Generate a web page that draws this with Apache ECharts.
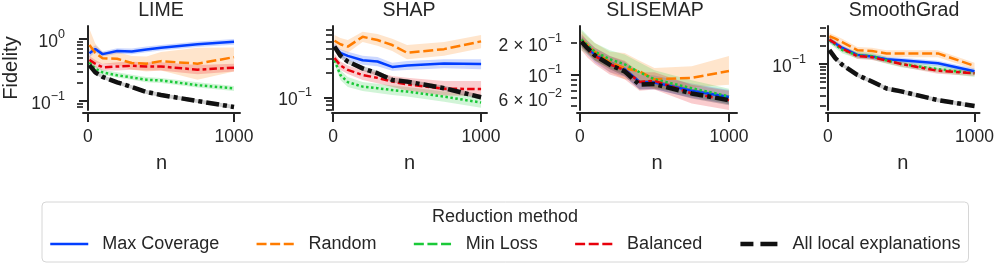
<!DOCTYPE html>
<html><head><meta charset="utf-8">
<script src="https://cdn.jsdelivr.net/npm/echarts@6/dist/echarts.min.js"></script>
<style>html,body{margin:0;padding:0;background:#fff}#c{width:997px;height:263px}</style>
</head><body><div id="c"></div>
<script>
// ---------------- data ----------------
const N = [10, 50, 100, 200, 300, 400, 500, 750, 1000];
const PANELS = ['LIME', 'SHAP', 'SLISEMAP', 'SmoothGrad'];
const METHODS = ['Max Coverage', 'Random', 'Min Loss', 'Balanced', 'All local explanations'];
const X_TICKS = [0, 1000];

// LIME
const LIME_maxcov    = [0.59, 0.69, 0.57, 0.64, 0.63, 0.68, 0.72, 0.82, 0.90];
const LIME_maxcov_lo = [0.51, 0.61, 0.52, 0.58, 0.57, 0.61, 0.65, 0.74, 0.81];
const LIME_maxcov_hi = [0.68, 0.79, 0.63, 0.71, 0.70, 0.76, 0.80, 0.91, 1.00];
const LIME_random    = [0.80, 0.60, 0.49, 0.48, 0.41, 0.40, 0.44, 0.40, 0.51];
const LIME_random_lo = [0.42, 0.42, 0.40, 0.38, 0.32, 0.30, 0.31, 0.22, 0.30];
const LIME_random_hi = [1.45, 0.85, 0.62, 0.62, 0.53, 0.52, 0.62, 0.72, 0.73];
const LIME_minloss    = [0.42, 0.33, 0.29, 0.26, 0.24, 0.22, 0.215, 0.18, 0.16];
const LIME_minloss_lo = [0.38, 0.30, 0.265, 0.24, 0.22, 0.20, 0.195, 0.165, 0.145];
const LIME_minloss_hi = [0.47, 0.37, 0.32, 0.29, 0.265, 0.245, 0.235, 0.20, 0.175];
const LIME_balanced    = [0.46, 0.40, 0.35, 0.36, 0.37, 0.36, 0.36, 0.32, 0.345];
const LIME_balanced_lo = [0.40, 0.35, 0.31, 0.31, 0.32, 0.31, 0.31, 0.27, 0.30];
const LIME_balanced_hi = [0.53, 0.46, 0.40, 0.42, 0.43, 0.42, 0.42, 0.38, 0.40];
const LIME_all    = [0.38, 0.29, 0.245, 0.20, 0.168, 0.14, 0.125, 0.10, 0.08];
const LIME_all_lo = [0.355, 0.27, 0.228, 0.186, 0.156, 0.13, 0.116, 0.093, 0.074];
const LIME_all_hi = [0.405, 0.31, 0.262, 0.214, 0.18, 0.15, 0.134, 0.107, 0.086];

// SHAP
const SHAP_maxcov    = [0.43, 0.36, 0.33, 0.29, 0.28, 0.24, 0.25, 0.265, 0.26];
const SHAP_maxcov_lo = [0.39, 0.32, 0.29, 0.255, 0.245, 0.215, 0.22, 0.23, 0.225];
const SHAP_maxcov_hi = [0.48, 0.40, 0.37, 0.33, 0.32, 0.27, 0.285, 0.30, 0.30];
const SHAP_random    = [0.51, 0.46, 0.43, 0.57, 0.52, 0.45, 0.36, 0.40, 0.50];
const SHAP_random_lo = [0.44, 0.39, 0.36, 0.49, 0.44, 0.38, 0.30, 0.33, 0.41];
const SHAP_random_hi = [0.60, 0.55, 0.52, 0.66, 0.62, 0.54, 0.45, 0.49, 0.60];
const SHAP_minloss    = [0.29, 0.19, 0.155, 0.136, 0.13, 0.123, 0.118, 0.102, 0.086];
const SHAP_minloss_lo = [0.26, 0.165, 0.135, 0.12, 0.113, 0.107, 0.102, 0.088, 0.074];
const SHAP_minloss_hi = [0.33, 0.22, 0.18, 0.155, 0.148, 0.14, 0.135, 0.118, 0.10];
const SHAP_balanced    = [0.31, 0.25, 0.22, 0.19, 0.175, 0.157, 0.145, 0.128, 0.127];
const SHAP_balanced_lo = [0.28, 0.22, 0.195, 0.165, 0.15, 0.135, 0.122, 0.105, 0.104];
const SHAP_balanced_hi = [0.35, 0.28, 0.25, 0.22, 0.205, 0.185, 0.175, 0.16, 0.16];
const SHAP_all    = [0.43, 0.33, 0.28, 0.23, 0.20, 0.165, 0.157, 0.13, 0.10];
const SHAP_all_lo = [0.40, 0.307, 0.26, 0.214, 0.186, 0.153, 0.146, 0.121, 0.093];
const SHAP_all_hi = [0.46, 0.353, 0.30, 0.246, 0.214, 0.177, 0.168, 0.139, 0.107];

// SLISEMAP
const SLISEMAP_maxcov    = [0.205, 0.18, 0.155, 0.125, 0.112, 0.085, 0.084, 0.07, 0.061];
const SLISEMAP_maxcov_lo = [0.18, 0.155, 0.13, 0.105, 0.095, 0.072, 0.072, 0.06, 0.052];
const SLISEMAP_maxcov_hi = [0.235, 0.21, 0.18, 0.15, 0.132, 0.10, 0.098, 0.082, 0.071];
const SLISEMAP_random    = [0.215, 0.19, 0.165, 0.13, 0.115, 0.107, 0.09, 0.093, 0.108];
const SLISEMAP_random_lo = [0.18, 0.16, 0.135, 0.105, 0.09, 0.085, 0.072, 0.075, 0.08];
const SLISEMAP_random_hi = [0.26, 0.23, 0.20, 0.165, 0.16, 0.135, 0.115, 0.12, 0.15];
const SLISEMAP_minloss    = [0.215, 0.19, 0.165, 0.14, 0.125, 0.105, 0.09, 0.074, 0.062];
const SLISEMAP_minloss_lo = [0.17, 0.155, 0.135, 0.115, 0.10, 0.085, 0.075, 0.062, 0.052];
const SLISEMAP_minloss_hi = [0.27, 0.235, 0.20, 0.17, 0.155, 0.13, 0.11, 0.088, 0.073];
const SLISEMAP_balanced    = [0.205, 0.175, 0.15, 0.125, 0.11, 0.085, 0.087, 0.066, 0.057];
const SLISEMAP_balanced_lo = [0.17, 0.145, 0.125, 0.10, 0.09, 0.07, 0.072, 0.053, 0.046];
const SLISEMAP_balanced_hi = [0.245, 0.21, 0.18, 0.15, 0.135, 0.105, 0.105, 0.08, 0.07];
const SLISEMAP_all    = [0.205, 0.178, 0.152, 0.124, 0.107, 0.080, 0.081, 0.066, 0.057];
const SLISEMAP_all_lo = [0.185, 0.16, 0.137, 0.112, 0.096, 0.072, 0.073, 0.059, 0.051];
const SLISEMAP_all_hi = [0.226, 0.196, 0.167, 0.136, 0.118, 0.088, 0.089, 0.073, 0.063];

// SmoothGrad
const SG_maxcov    = [0.25, 0.22, 0.185, 0.142, 0.133, 0.12, 0.115, 0.103, 0.076];
const SG_maxcov_lo = [0.225, 0.198, 0.167, 0.128, 0.12, 0.108, 0.104, 0.093, 0.068];
const SG_maxcov_hi = [0.275, 0.242, 0.204, 0.156, 0.146, 0.132, 0.127, 0.113, 0.084];
const SG_random    = [0.29, 0.265, 0.23, 0.17, 0.165, 0.15, 0.15, 0.15, 0.093];
const SG_random_lo = [0.25, 0.23, 0.20, 0.148, 0.143, 0.13, 0.13, 0.13, 0.081];
const SG_random_hi = [0.33, 0.30, 0.26, 0.192, 0.187, 0.17, 0.17, 0.17, 0.105];
const SG_minloss    = [0.25, 0.21, 0.17, 0.14, 0.135, 0.115, 0.10, 0.082, 0.07];
const SG_minloss_lo = [0.22, 0.185, 0.15, 0.123, 0.119, 0.101, 0.088, 0.072, 0.061];
const SG_minloss_hi = [0.285, 0.24, 0.194, 0.16, 0.154, 0.131, 0.114, 0.094, 0.08];
const SG_balanced    = [0.255, 0.22, 0.18, 0.135, 0.13, 0.114, 0.10, 0.077, 0.07];
const SG_balanced_lo = [0.23, 0.198, 0.162, 0.121, 0.117, 0.103, 0.09, 0.069, 0.063];
const SG_balanced_hi = [0.28, 0.242, 0.198, 0.149, 0.143, 0.125, 0.11, 0.085, 0.077];
const SG_all    = [0.17, 0.125, 0.096, 0.066, 0.051, 0.039, 0.035, 0.025, 0.020];
const SG_all_lo = [0.158, 0.116, 0.089, 0.061, 0.047, 0.036, 0.032, 0.023, 0.0185];
const SG_all_hi = [0.183, 0.134, 0.103, 0.071, 0.055, 0.042, 0.038, 0.027, 0.0215];

// y tick values (log axes)
const LIME_major = [0.1, 1], LIME_labels = [0.1, 1];
const LIME_minor = [0.08, 0.09, 0.2, 0.3, 0.4, 0.5, 0.6, 0.7, 0.8, 0.9];
const SHAP_major = [0.1], SHAP_labels = [0.1];
const SHAP_minor = [0.07, 0.08, 0.09, 0.2, 0.3, 0.4, 0.5, 0.6, 0.7];
const SLISEMAP_major = [0.1], SLISEMAP_labels = [0.2, 0.1, 0.06];
const SLISEMAP_minor = [0.05, 0.06, 0.07, 0.08, 0.09, 0.2];
const SG_major = [0.1], SG_labels = [0.1];
const SG_minor = [0.02, 0.03, 0.04, 0.05, 0.06, 0.07, 0.08, 0.09, 0.2, 0.3, 0.4];

// ---------------- tables built from the arrays ----------------
const SERIES_DATA = [
  [[LIME_maxcov, LIME_maxcov_lo, LIME_maxcov_hi], [LIME_random, LIME_random_lo, LIME_random_hi],
   [LIME_minloss, LIME_minloss_lo, LIME_minloss_hi], [LIME_balanced, LIME_balanced_lo, LIME_balanced_hi],
   [LIME_all, LIME_all_lo, LIME_all_hi]],
  [[SHAP_maxcov, SHAP_maxcov_lo, SHAP_maxcov_hi], [SHAP_random, SHAP_random_lo, SHAP_random_hi],
   [SHAP_minloss, SHAP_minloss_lo, SHAP_minloss_hi], [SHAP_balanced, SHAP_balanced_lo, SHAP_balanced_hi],
   [SHAP_all, SHAP_all_lo, SHAP_all_hi]],
  [[SLISEMAP_maxcov, SLISEMAP_maxcov_lo, SLISEMAP_maxcov_hi], [SLISEMAP_random, SLISEMAP_random_lo, SLISEMAP_random_hi],
   [SLISEMAP_minloss, SLISEMAP_minloss_lo, SLISEMAP_minloss_hi], [SLISEMAP_balanced, SLISEMAP_balanced_lo, SLISEMAP_balanced_hi],
   [SLISEMAP_all, SLISEMAP_all_lo, SLISEMAP_all_hi]],
  [[SG_maxcov, SG_maxcov_lo, SG_maxcov_hi], [SG_random, SG_random_lo, SG_random_hi],
   [SG_minloss, SG_minloss_lo, SG_minloss_hi], [SG_balanced, SG_balanced_lo, SG_balanced_hi],
   [SG_all, SG_all_lo, SG_all_hi]]
];
const TICKS = [
  [LIME_major, LIME_labels, LIME_minor],
  [SHAP_major, SHAP_labels, SHAP_minor],
  [SLISEMAP_major, SLISEMAP_labels, SLISEMAP_minor],
  [SG_major, SG_labels, SG_minor]
];

// ---------------- layout & style ----------------
const FONT = '"Liberation Sans", Arial, Helvetica, sans-serif';
const TXT = '#262626';
const LAYOUT = [
  { left: 82,  width: 158, xmin: -34,   xmax: 1041, ymin: 0.0716, ymax: 1.621,  lm: 18, cx: 161 },
  { left: 332, width: 155, xmin: -6.8,  xmax: 1040, ymin: 0.0694, ymax: 0.7786, lm: 20, cx: 409 },
  { left: 577, width: 160, xmin: -20,   xmax: 1054, ymin: 0.0459, ymax: 0.2897, lm: 15, cx: 655 },
  { left: 826, width: 156, xmin: -13.4, xmax: 1034, ymin: 0.01712, ymax: 0.4299, lm: 20, cx: 904 }
];
const GRID_TOP = 26, GRID_H = 84;
const COLORS = ['#023eff', '#ff7c00', '#1ac938', '#e8000b', '#111111'];
const BAND_COLORS = ['#023eff', '#ff7c00', '#1ac938', '#e8000b', '#000000'];
const DASHES = ['solid', [10, 3.75], [2.5, 2.5], [7.5, 3.1, 3.75, 3.1], [13, 4, 4, 4]];
const WIDTHS = [2.5, 2.5, 2.5, 2.5, 4.5];
const LEGEND_DASHES = ['solid', [10, 3.6], [10, 3.6], [10, 3.6], [13, 7, 17, 7]];

function logLabel(v) {
  if (v <= 0) v = Math.pow(10, v);
  const e = Math.log10(v), k = Math.round(e);
  if (Math.abs(e - k) < 1e-6) return '{b|10}{s|' + (k < 0 ? '\u2212' : '') + Math.abs(k) + '}';
  const f = Math.floor(e + 1e-9);
  const m = Math.round(v / Math.pow(10, f));
  return '{b|' + m + ' \u00d7 10}{s|' + (f < 0 ? '\u2212' : '') + Math.abs(f) + '}';
}

const grids = [], xAxes = [], yAxes = [], series = [], graphics = [];
LAYOUT.forEach((L, gi) => {
  grids.push({ left: L.left, top: GRID_TOP, width: L.width, height: GRID_H });
  xAxes.push({
    type: 'value', gridIndex: gi, min: L.xmin, max: L.xmax, offset: 3,
    axisLine: { show: true, onZero: false, lineStyle: { color: TXT, width: 2 } },
    axisTick: { show: true, length: 9, customValues: X_TICKS, lineStyle: { color: TXT, width: 2 } },
    axisLabel: { show: true, customValues: X_TICKS, margin: 15, fontSize: 17.5, fontFamily: FONT, color: TXT,
                 formatter: v => String(Math.round(v)) },
    splitLine: { show: false },
    name: 'n', nameLocation: 'middle', nameGap: 40,
    nameTextStyle: { fontSize: 20, fontFamily: FONT, color: TXT }
  });
  const [major, labels, minor] = TICKS[gi];
  const yMain = {
    type: 'log', logBase: 10, gridIndex: gi, position: 'left', min: L.ymin, max: L.ymax,
    axisLine: { show: true, lineStyle: { color: TXT, width: 2 } },
    axisTick: { show: true, length: 9, customValues: major, lineStyle: { color: TXT, width: 2 } },
    axisLabel: {
      show: true, customValues: labels, margin: L.lm, formatter: logLabel, hideOverlap: false,
      rich: {
        b: { fontSize: 17.5, fontFamily: FONT, color: TXT, padding: [6, 0, 0, 0] },
        s: { fontSize: 12.5, fontFamily: FONT, color: TXT, padding: [0, 0, 9, 0] }
      }
    },
    splitLine: { show: false }, minorTick: { show: false }
  };
  if (gi === 0) {
    yMain.name = 'Fidelity'; yMain.nameLocation = 'middle'; yMain.nameGap = 62;
    yMain.nameTextStyle = { fontSize: 20, fontFamily: FONT, color: TXT };
  }
  yAxes.push(yMain);
  yAxes.push({
    type: 'log', logBase: 10, gridIndex: gi, position: 'left', min: L.ymin, max: L.ymax,
    axisLine: { show: false },
    axisTick: { show: true, length: 6, customValues: minor, lineStyle: { color: TXT, width: 1.7 } },
    axisLabel: { show: false }, splitLine: { show: false }, minorTick: { show: false }
  });

  SERIES_DATA[gi].forEach((triple, mi) => {
    const [mean, lo, hi] = triple;
    series.push({
      type: 'custom', xAxisIndex: gi, yAxisIndex: 2 * gi, silent: true, z: 1,
      data: N.map((x, i) => [x, lo[i], hi[i]]),
      encode: { x: 0, y: [1, 2] },
      renderItem: function (params, api) {
        if (params.dataIndex !== 0) return null;
        const pts = [];
        for (let i = 0; i < N.length; i++) pts.push(api.coord([N[i], hi[i]]));
        for (let i = N.length - 1; i >= 0; i--) pts.push(api.coord([N[i], lo[i]]));
        return { type: 'polygon', shape: { points: pts },
                 style: { fill: BAND_COLORS[mi], opacity: 0.2 } };
      }
    });
    series.push({
      type: 'line', name: METHODS[mi], xAxisIndex: gi, yAxisIndex: 2 * gi,
      data: N.map((x, i) => [x, mean[i]]),
      symbol: 'none', z: mi === 4 ? 4 : 3,
      lineStyle: { color: COLORS[mi], width: WIDTHS[mi], type: DASHES[mi] },
      itemStyle: { color: COLORS[mi] }
    });
  });

  graphics.push({
    type: 'text', x: L.cx, y: 10.5,
    style: { text: PANELS[gi], fontSize: 19.5, fontFamily: FONT, fill: TXT,
             align: 'center', verticalAlign: 'middle', textAlign: 'center', textVerticalAlign: 'middle' }
  });
});

graphics.push({
  type: 'text', x: 505, y: 217,
  style: { text: 'Reduction method', fontSize: 18, fontFamily: FONT, fill: TXT,
           align: 'center', verticalAlign: 'middle', textAlign: 'center', textVerticalAlign: 'middle' }
});

const option = {
  animation: false,
  backgroundColor: '#ffffff',
  grid: grids, xAxis: xAxes, yAxis: yAxes, series: series,
  graphic: graphics,
  legend: {
    left: 42, top: 202, orient: 'horizontal',
    padding: [33, 8, 9, 7], itemGap: 36, itemWidth: 38, itemHeight: 14,
    borderColor: '#d6d6d6', borderWidth: 1, borderRadius: 4,
    textStyle: { fontSize: 18, fontFamily: FONT, color: TXT, padding: [0, 0, 0, 9] },
    itemStyle: { opacity: 0, borderWidth: 0 },
    data: METHODS.map((m, i) => ({
      name: m,
      itemStyle: { opacity: 0, borderWidth: 0 },
      lineStyle: { color: COLORS[i], width: WIDTHS[i], type: LEGEND_DASHES[i] }
    }))
  }
};
const chart = echarts.init(document.getElementById('c'), null, { renderer: 'canvas' });
chart.setOption(option);
</script></body></html>
